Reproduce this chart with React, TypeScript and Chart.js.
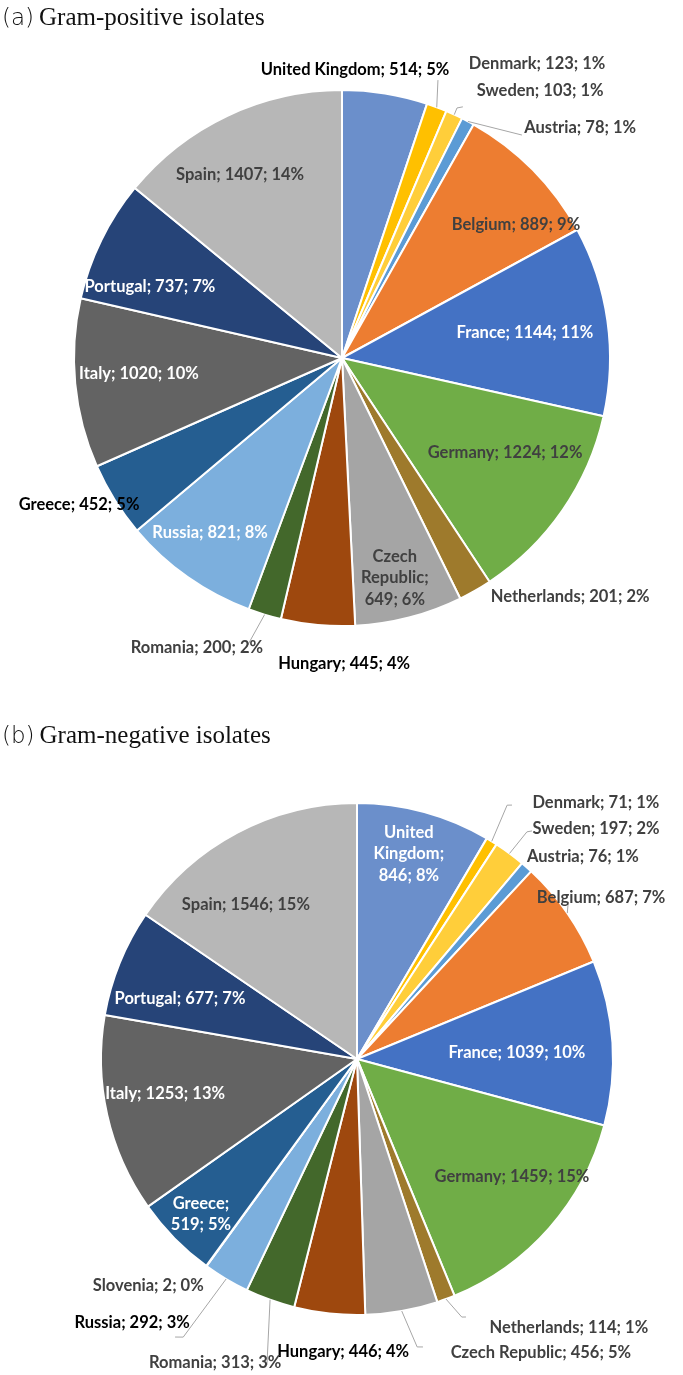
import React, { useEffect, useRef } from "react";
import { Chart, registerables } from "chart.js";

Chart.register(...registerables);

// ---------- data ----------
const posCountries = [
  "United Kingdom", "Denmark", "Sweden", "Austria", "Belgium", "France", "Germany", "Netherlands",
  "Czech Republic", "Hungary", "Romania", "Russia", "Greece", "Italy", "Portugal", "Spain",
];
const posValues = [514, 123, 103, 78, 889, 1144, 1224, 201, 649, 445, 200, 821, 452, 1020, 737, 1407];

const negCountries = [
  "United Kingdom", "Denmark", "Sweden", "Austria", "Belgium", "France", "Germany", "Netherlands",
  "Czech Republic", "Hungary", "Romania", "Russia", "Slovenia", "Greece", "Italy", "Portugal", "Spain",
];
const negValues = [846, 71, 197, 76, 687, 1039, 1459, 114, 456, 446, 313, 292, 2, 519, 1253, 677, 1546];

const titleA = ["(a)", "Gram-positive isolates"];
const titleB = ["(b)", "Gram-negative isolates"];

// ---------- styles ----------
const countryColors: Record<string, string> = {
  "United Kingdom": "#6B8FCB",
  Denmark: "#FFC000",
  Sweden: "#FFCE3A",
  Austria: "#5B9BD5",
  Belgium: "#ED7D31",
  France: "#4472C4",
  Germany: "#70AD47",
  Netherlands: "#9E7A2C",
  "Czech Republic": "#A5A5A5",
  Hungary: "#9E480E",
  Romania: "#43682B",
  Russia: "#7CAFDD",
  Slovenia: "#997300",
  Greece: "#255E91",
  Italy: "#636363",
  Portugal: "#264478",
  Spain: "#B7B7B7",
};

const GRAY = "#404040";
const WHITE = "#FFFFFF";
const BLACK = "#000000";
const LEADER = "#A6A6A6";
const FONT = "'Lato', 'Liberation Sans', sans-serif";
const FONT_SIZE = 16.5;
const LINE_H = 21.5;

type LabelCfg = { a: number; k: number; color: string; groups?: number[]; lead?: number[][] };

// label placement: angle (deg, clockwise from top) and radius fraction
const posLabels: LabelCfg[] = [
  { a: 2.6, k: 1.076, color: BLACK },
  { a: 33.5, k: 1.319, color: GRAY, lead: [[19.05, 1.097]] },
  { a: 36.5, k: 1.243, color: GRAY, lead: [[24.7, 1.027], [25.7, 1.04]] },
  { a: 46.0, k: 1.235, color: GRAY, lead: [[38.9, 1.069]] },
  { a: 52.6, k: 0.817, color: GRAY },
  { a: 82.2, k: 0.689, color: WHITE },
  { a: 120.2, k: 0.704, color: GRAY },
  { a: 136.3, k: 1.232, color: GRAY },
  { a: 166.5, k: 0.844, color: GRAY, groups: [1, 1, 2] },
  { a: 179.6, k: 1.142, color: BLACK },
  { a: 206.6, k: 1.21, color: GRAY, lead: [[198.3, 1.14]] },
  { a: 217.0, k: 0.818, color: WHITE },
  { a: 240.8, k: 1.124, color: BLACK },
  { a: 265.5, k: 0.76, color: WHITE },
  { a: 290.3, k: 0.764, color: WHITE },
  { a: 330.9, k: 0.782, color: GRAY },
];

const negLabels: LabelCfg[] = [
  { a: 14.2, k: 0.826, color: WHITE, groups: [1, 1, 2] },
  { a: 43.0, k: 1.368, color: GRAY, lead: [[30.6, 1.152], [31.4, 1.162]] },
  { a: 46.0, k: 1.298, color: GRAY, lead: [[36.8, 1.108], [37.5, 1.123]] },
  { a: 48.2, k: 1.184, color: GRAY },
  { a: 56.6, k: 1.142, color: GRAY, lead: [[53.7, 1.023]] },
  { a: 87.9, k: 0.625, color: WHITE },
  { a: 127.1, k: 0.759, color: GRAY },
  { a: 141.7, k: 1.335, color: GRAY, lead: [[157.9, 1.088], [157.1, 1.094]] },
  { a: 148.0, k: 1.355, color: GRAY, lead: [[168.2, 1.149], [167.1, 1.154]] },
  { a: 182.7, k: 1.146, color: BLACK },
  { a: 205.0, k: 1.311, color: GRAY, lead: [[196.4, 1.246]] },
  { a: 220.4, k: 1.355, color: BLACK, lead: [[212.0, 1.281], [213.2, 1.298]] },
  { a: 222.6, k: 1.205, color: GRAY },
  { a: 225.2, k: 0.859, color: WHITE, groups: [1, 2] },
  { a: 259.7, k: 0.762, color: WHITE },
  { a: 288.7, k: 0.73, color: WHITE },
  { a: 324.2, k: 0.742, color: GRAY },
];

function labelText(countries: string[], values: number[], i: number, groups?: number[]): string[] {
  const total = values.reduce((s, v) => s + v, 0);
  const pct = Math.round((values[i] / total) * 100);
  const full = `${countries[i]}; ${values[i]}; ${pct}%`;
  if (!groups) return [full];
  const tokens = full.split(" ");
  const lines: string[] = [];
  let idx = 0;
  groups.forEach((g) => {
    lines.push(tokens.slice(idx, idx + g).join(" "));
    idx += g;
  });
  return lines;
}

function makeLabelPlugin(countries: string[], values: number[], cfgs: LabelCfg[]) {
  return {
    id: "sliceLabels",
    afterDatasetsDraw(chart: any) {
      const ctx: CanvasRenderingContext2D = chart.ctx;
      const meta = chart.getDatasetMeta(0);
      ctx.save();
      meta.data.forEach((arc: any, i: number) => {
        const cfg = cfgs[i];
        if (!cfg) return;
        const p = arc.getProps(["x", "y", "startAngle", "endAngle", "outerRadius"], true);
        const R = p.outerRadius;
        const pt = (deg: number, k: number) => {
          const t = ((deg - 90) * Math.PI) / 180;
          return [p.x + R * k * Math.cos(t), p.y + R * k * Math.sin(t)];
        };
        if (cfg.lead) {
          const mid = (p.startAngle + p.endAngle) / 2;
          ctx.beginPath();
          ctx.moveTo(p.x + R * Math.cos(mid), p.y + R * Math.sin(mid));
          cfg.lead.forEach(([d, k]) => {
            const [x, y] = pt(d, k);
            ctx.lineTo(x, y);
          });
          ctx.strokeStyle = LEADER;
          ctx.lineWidth = 1;
          ctx.stroke();
        }
        const lines = labelText(countries, values, i, cfg.groups);
        const [cx, cy] = pt(cfg.a, cfg.k);
        ctx.font = `bold ${FONT_SIZE}px ${FONT}`;
        ctx.fillStyle = cfg.color;
        ctx.textAlign = "center";
        ctx.textBaseline = "middle";
        const y0 = cy - ((lines.length - 1) * LINE_H) / 2;
        lines.forEach((ln, j) => ctx.fillText(ln, cx, y0 + j * LINE_H));
      });
      ctx.restore();
    },
  };
}

type PieProps = {
  countries: string[];
  values: number[];
  labels: LabelCfg[];
  width: number;
  height: number;
  top: number;
  padding: { left: number; right: number; top: number; bottom: number };
};

function Pie({ countries, values, labels, width, height, top, padding }: PieProps) {
  const ref = useRef<HTMLCanvasElement | null>(null);
  useEffect(() => {
    if (!ref.current) return;
    const chart = new Chart(ref.current, {
      type: "pie",
      data: {
        labels: countries,
        datasets: [
          {
            data: values,
            backgroundColor: countries.map((c) => countryColors[c]),
            borderColor: "#FFFFFF",
            borderWidth: 2,
          },
        ],
      },
      options: {
        responsive: false,
        animation: false,
        devicePixelRatio: 1,
        layout: { padding },
        plugins: {
          legend: { display: false },
          tooltip: { enabled: false },
        },
      },
      plugins: [makeLabelPlugin(countries, values, labels)],
    });
    return () => chart.destroy();
  }, []);
  return (
    <canvas
      ref={ref}
      width={width}
      height={height}
      style={{ position: "absolute", left: 0, top, width, height }}
    />
  );
}

function Title({ parts, top }: { parts: string[]; top: number }) {
  return (
    <div
      style={{
        position: "absolute",
        left: 2,
        top,
        fontSize: 25,
        lineHeight: "25px",
        whiteSpace: "nowrap",
        color: "#111",
        zIndex: 2,
      }}
    >
      <span style={{ fontFamily: "'DejaVu Sans', sans-serif", fontWeight: 200, fontSize: 23 }}>{parts[0]}</span>
      <span style={{ fontFamily: "'Liberation Serif', 'Times New Roman', serif", marginLeft: 5 }}>{parts[1]}</span>
    </div>
  );
}

export default function App() {
  return (
    <div
      style={{
        position: "absolute",
        left: 0,
        top: 0,
        width: 683,
        height: 1375,
        background: "#FFFFFF",
        overflow: "hidden",
      }}
    >
      <Pie
        countries={posCountries}
        values={posValues}
        labels={posLabels}
        width={683}
        height={700}
        top={0}
        padding={{ left: 73, right: 72, top: 89, bottom: 73 }}
      />
      <Pie
        countries={negCountries}
        values={negValues}
        labels={negLabels}
        width={683}
        height={675}
        top={700}
        padding={{ left: 100, right: 69, top: 102, bottom: 59 }}
      />
      <Title parts={titleA} top={4} />
      <Title parts={titleB} top={722} />
    </div>
  );
}
